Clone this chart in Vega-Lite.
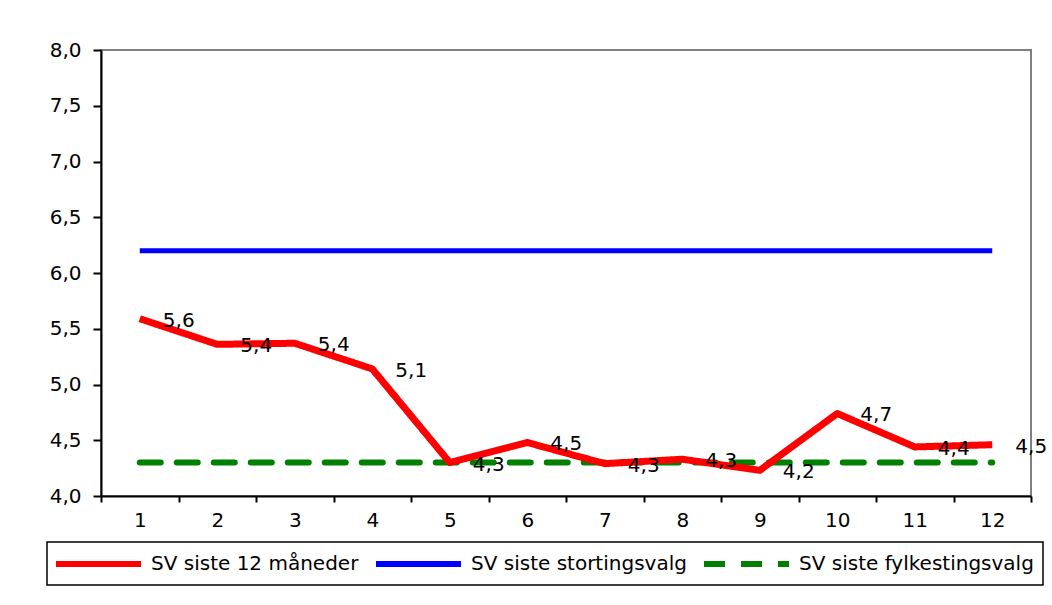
{
  "$schema": "https://vega.github.io/schema/vega-lite/v6.json",
  "width": 930,
  "height": 446,
  "autosize": {"type": "none"},
  "padding": {"left": 101, "top": 50, "right": 21, "bottom": 109},
  "background": "white",
  "config": {
    "locale": {"number": {"decimal": ",", "thousands": " ", "grouping": [3], "currency": ["", " kr"]}},
    "font": "DejaVu Sans",
    "view": {"stroke": "#808080", "strokeWidth": 2},
    "axis": {"grid": false, "domainColor": "black", "domainWidth": 2, "tickColor": "black", "tickWidth": 2, "labelColor": "black", "labelFont": "DejaVu Sans", "labelFontSize": 20, "title": null},
    "legend": {"strokeColor": "black", "strokeWidth": 1.5}
  },
  "datasets": {
    "red": [
      {"m": 1, "serie": "SV siste 12 måneder", "v": 5.59},
      {"m": 2, "serie": "SV siste 12 måneder", "v": 5.36},
      {"m": 3, "serie": "SV siste 12 måneder", "v": 5.37},
      {"m": 4, "serie": "SV siste 12 måneder", "v": 5.14},
      {"m": 5, "serie": "SV siste 12 måneder", "v": 4.30},
      {"m": 6, "serie": "SV siste 12 måneder", "v": 4.48},
      {"m": 7, "serie": "SV siste 12 måneder", "v": 4.29},
      {"m": 8, "serie": "SV siste 12 måneder", "v": 4.33},
      {"m": 9, "serie": "SV siste 12 måneder", "v": 4.23},
      {"m": 10, "serie": "SV siste 12 måneder", "v": 4.74},
      {"m": 11, "serie": "SV siste 12 måneder", "v": 4.44},
      {"m": 12, "serie": "SV siste 12 måneder", "v": 4.46}
    ],
    "blue": [
      {"m": 1, "serie": "SV siste stortingsvalg", "v": 6.2},
      {"m": 12, "serie": "SV siste stortingsvalg", "v": 6.2}
    ],
    "green": [
      {"m": 1, "serie": "SV siste fylkestingsvalg", "v": 4.3},
      {"m": 12, "serie": "SV siste fylkestingsvalg", "v": 4.3}
    ]
  },
  "encoding": {
    "x": {
      "field": "m", "type": "ordinal",
      "scale": {"type": "band", "domain": [1,2,3,4,5,6,7,8,9,10,11,12], "paddingInner": 0, "paddingOuter": 0},
      "axis": {"labelAngle": 0, "tickBand": "extent", "tickSize": 6, "labelPadding": 8}
    },
    "y": {
      "field": "v", "type": "quantitative",
      "scale": {"domain": [4, 8], "nice": false, "zero": false},
      "axis": {"values": [4, 4.5, 5, 5.5, 6, 6.5, 7, 7.5, 8], "format": ".1f", "tickSize": 8, "labelPadding": 12}
    },
    "color": {"field": "serie", "type": "nominal", "scale": {"domain": ["SV siste 12 måneder", "SV siste stortingsvalg", "SV siste fylkestingsvalg"], "range": ["#FF0000", "#0000FF", "#008000"]},
      "legend": {"title": null, "orient": "none", "legendX": -54, "legendY": 492, "direction": "horizontal", "columns": 3, "columnPadding": 5, "padding": 9, "symbolType": "M-1.3,0H7.2", "symbolSize": 400, "symbolStrokeWidth": 6, "labelFontSize": 20, "labelFont": "DejaVu Sans", "labelColor": "black", "labelLimit": 400, "labelOffset": 69}},
    "strokeDash": {"field": "serie", "type": "nominal", "scale": {"domain": ["SV siste 12 måneder", "SV siste stortingsvalg", "SV siste fylkestingsvalg"], "range": [[1, 0], [1, 0], [21, 16]]},
      "legend": {"title": null, "orient": "none", "legendX": -54, "legendY": 492, "direction": "horizontal", "columns": 3, "columnPadding": 5, "padding": 9, "symbolType": "M-1.3,0H7.2", "symbolSize": 400, "symbolStrokeWidth": 6, "labelFontSize": 20, "labelFont": "DejaVu Sans", "labelColor": "black", "labelLimit": 400, "labelOffset": 69}}
  },
  "layer": [
    {
      "data": {"name": "green"},
      "mark": {"type": "line", "strokeWidth": 6, "strokeCap": "round"}
    },
    {
      "data": {"name": "blue"},
      "mark": {"type": "line", "strokeWidth": 5}
    },
    {
      "data": {"name": "red"},
      "mark": {"type": "line", "strokeWidth": 7, "strokeJoin": "round"}
    },
    {
      "data": {"name": "red"},
      "mark": {"type": "text", "dx": 39, "dy": 2, "align": "center", "baseline": "middle", "fontSize": 20, "font": "DejaVu Sans"},
      "encoding": {
        "text": {"field": "v", "type": "quantitative", "format": ".1f"},
        "color": {"value": "black"},
        "strokeDash": {"value": [1, 0]}
      }
    }
  ]
}
